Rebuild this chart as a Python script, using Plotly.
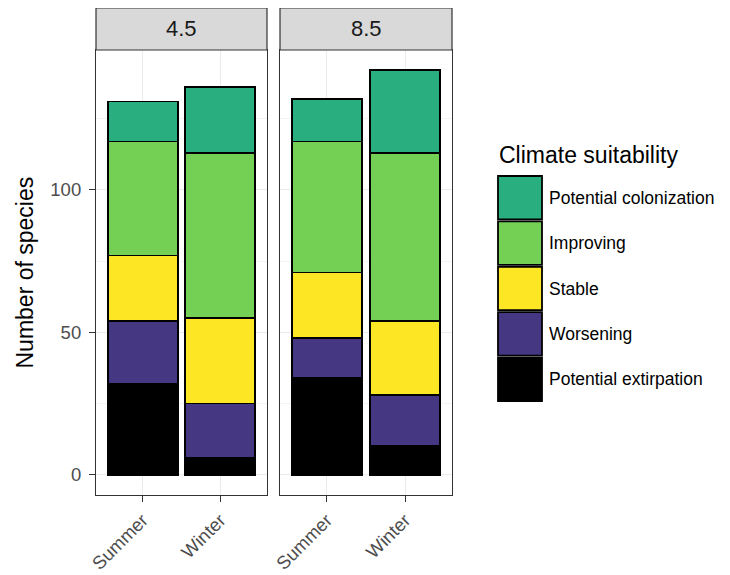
import plotly.graph_objects as go

categories = ["Summer", "Winter"]
scenarios = ["4.5", "8.5"]
classes = ["Potential extirpation", "Worsening", "Stable", "Improving", "Potential colonization"]
colors = ["#000000", "#453781", "#FDE725", "#74D055", "#29AF7F"]

extirpation_45 = [32, 6]
worsening_45 = [22, 19]
stable_45 = [23, 30]
improving_45 = [40, 58]
colonization_45 = [14, 23]

extirpation_85 = [34, 10]
worsening_85 = [14, 18]
stable_85 = [23, 26]
improving_85 = [46, 59]
colonization_85 = [15, 29]

data = {
    "4.5": [extirpation_45, worsening_45, stable_45, improving_45, colonization_45],
    "8.5": [extirpation_85, worsening_85, stable_85, improving_85, colonization_85],
}

W, H = 730, 575
OFF = 8  # page body margin offset
FONT = "Liberation Sans, Arial, sans-serif"

def px_x(x):
    return (x - OFF) / W

def px_y(y):
    return (H - (y - OFF)) / H

fig = go.Figure()
for i, sc in enumerate(scenarios):
    xa = "x" if i == 0 else "x2"
    ya = "y" if i == 0 else "y2"
    for cls, col, vals in zip(classes, colors, data[sc]):
        fig.add_trace(go.Bar(
            x=categories, y=vals, name=cls, xaxis=xa, yaxis=ya,
            width=0.9, marker=dict(color=col, line=dict(color="#000000", width=1.8)),
            showlegend=False,
        ))

panel_top, panel_bot = 50, 495
panels = [(96, 267), (280, 452)]
ydom = [px_y(panel_bot), px_y(panel_top)]
yrange = [-7.1, 149.1]

axis_common = dict(
    showline=True, mirror=True, linecolor="#333333", linewidth=1.2,
    gridcolor="#EBEBEB", gridwidth=1, zeroline=False,
    ticks="outside", ticklen=6, tickcolor="#333333", tickwidth=1.1,
    tickfont=dict(family=FONT, size=18.5, color="#4D4D4D"),
    automargin=False,
)

fig.update_layout(
    width=W, height=H, margin=dict(l=0, r=0, t=0, b=0),
    paper_bgcolor="white", plot_bgcolor="white", barmode="stack",
    showlegend=False,
    xaxis=dict(domain=[px_x(panels[0][0]), px_x(panels[0][1])], range=[-0.6, 1.6],
               tickangle=-45, **axis_common),
    xaxis2=dict(domain=[px_x(panels[1][0]), px_x(panels[1][1])], range=[-0.6, 1.6],
                tickangle=-45, anchor="y2", **axis_common),
    yaxis=dict(domain=ydom, range=yrange, tickvals=[0, 50, 100], ticklabelstandoff=4,
               minor=dict(tickvals=[25, 75, 125], showgrid=True, gridcolor="#F4F4F4", ticks=""),
               **axis_common),
    yaxis2=dict(domain=ydom, range=yrange, tickvals=[0, 50, 100], anchor="x2",
                showticklabels=False,
                minor=dict(tickvals=[25, 75, 125], showgrid=True, gridcolor="#F4F4F4", ticks=""),
                **{k: v for k, v in axis_common.items() if k not in ("ticks",)}, ticks=""),
)

shapes = []
annotations = []
# facet strips
for (x0, x1), sc in zip(panels, scenarios):
    shapes.append(dict(type="rect", xref="paper", yref="paper",
                       x0=px_x(x0), x1=px_x(x1), y0=px_y(panel_top), y1=px_y(8),
                       fillcolor="#D9D9D9", line=dict(color="#333333", width=1.2)))
    annotations.append(dict(text=sc, xref="paper", yref="paper", x=px_x((x0 + x1) / 2),
                            y=px_y(29), showarrow=False, xanchor="center", yanchor="middle",
                            font=dict(family=FONT, size=22, color="#1A1A1A")))

# y axis title
annotations.append(dict(text="Number of species", xref="paper", yref="paper",
                        x=px_x(24), y=px_y((panel_top + panel_bot) / 2), textangle=-90,
                        showarrow=False, xanchor="center", yanchor="middle",
                        font=dict(family=FONT, size=23, color="#000000")))

# legend
annotations.append(dict(text="Climate suitability", xref="paper", yref="paper",
                        x=px_x(497), y=px_y(155), showarrow=False, xanchor="left",
                        yanchor="middle", font=dict(family=FONT, size=23, color="#000000")))
key_top, key_h = 175, 45.4
for j, (cls, col) in enumerate(zip(classes[::-1], colors[::-1])):
    y0 = key_top + j * key_h
    shapes.append(dict(type="rect", xref="paper", yref="paper",
                       x0=px_x(498), x1=px_x(542), y0=px_y(y0 + key_h - 1), y1=px_y(y0 + 1),
                       fillcolor=col, line=dict(color="#000000", width=1.8)))
    annotations.append(dict(text=cls, xref="paper", yref="paper", x=px_x(547),
                            y=px_y(y0 + key_h / 2), showarrow=False, xanchor="left",
                            yanchor="middle", font=dict(family=FONT, size=17.5, color="#000000")))

fig.update_layout(shapes=shapes, annotations=annotations)
fig.write_html("out.html")
